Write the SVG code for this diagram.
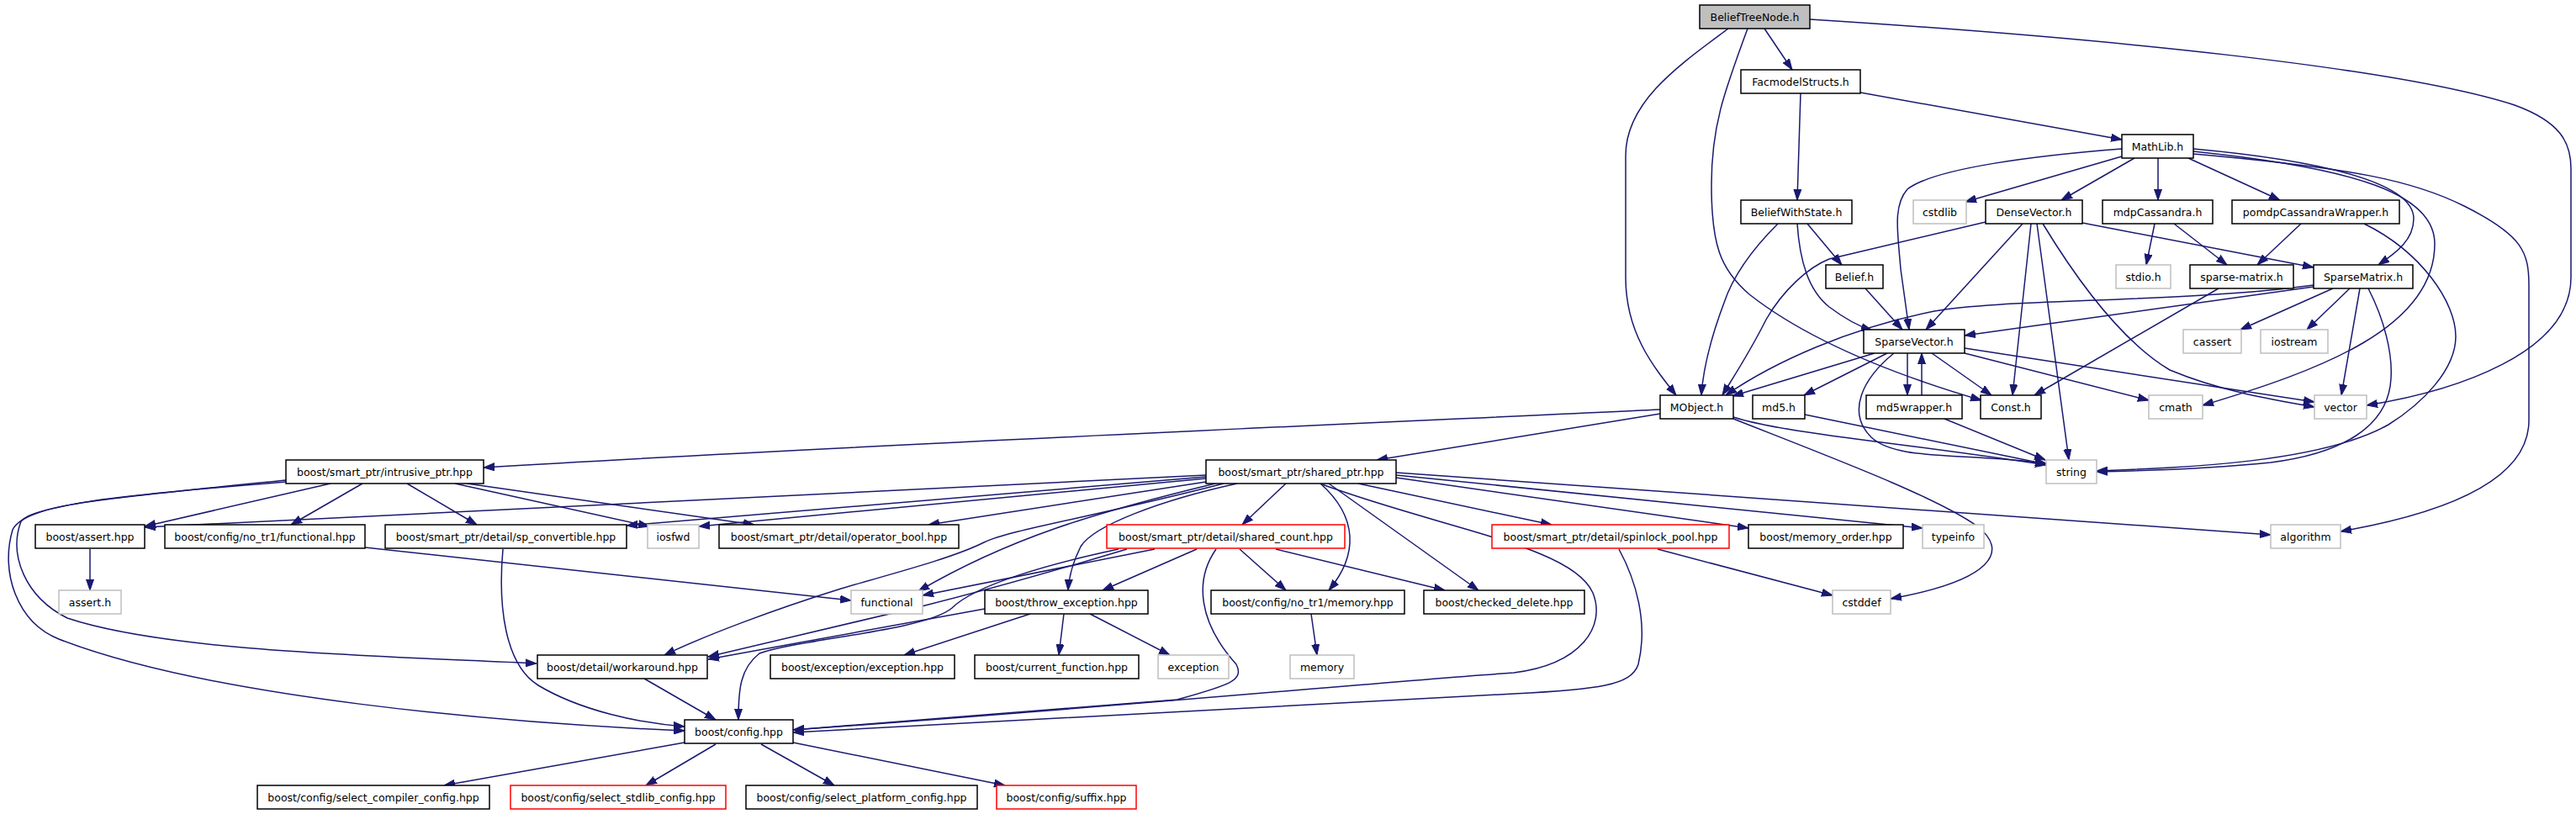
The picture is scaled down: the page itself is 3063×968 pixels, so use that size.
<svg xmlns="http://www.w3.org/2000/svg" width="3063" height="968" viewBox="0 0 3063 968">
<style>
.n rect{fill:#fff;stroke:#000;stroke-width:1.5}
.n.g rect{stroke:#bfbfbf}
.n.r rect{stroke:#f00}
.n.root rect{fill:#bfbfbf}
text{font-family:"DejaVu Sans",sans-serif;font-size:12.5px;text-anchor:middle;fill:#000}
#edges path{fill:none;stroke:#191970;stroke-width:1.5;marker-end:url(#a)}
</style>
<defs>
<marker id="a" markerWidth="13" markerHeight="10" refX="13" refY="5" orient="auto" markerUnits="userSpaceOnUse"><path d="M0,0.5 L13,5 L0,9.5 z" fill="#191970" stroke="#191970" stroke-width="1"/></marker>
</defs>
<rect width="3063" height="968" fill="#fff"/>
<g id="edges">
<path d="M2098,34 L2131,83"/>
<path d="M2055,34 C2000,75 1933,120 1933,185 L1933,330 C1933,395 1965,435 1993,470"/>
<path d="M2078,34 C2050,110 2035,150 2035,220 C2035,290 2045,320 2080,350 C2150,405 2250,445 2356,476"/>
<path d="M2152,23 C2500,45 2850,80 2990,125 C3045,145 3057,170 3057,200 L3057,330 C3057,420 2920,465 2814,482"/>
<path d="M2141,111 L2137,238"/>
<path d="M2212,110 L2523,166"/>
<path d="M2523,186 L2337,240"/>
<path d="M2538,188 L2451,238"/>
<path d="M2566,188 L2566,238"/>
<path d="M2602,188 L2711,238"/>
<path d="M2608,177 C2750,190 2870,215 2870,260 C2870,285 2850,300 2828,315"/>
<path d="M2608,180 C2800,200 2895,230 2895,290 C2895,390 2760,440 2619,482"/>
<path d="M2608,183 C2800,200 2870,215 2930,245 C3000,280 3007,300 3007,340 L3007,500 C3007,580 2880,615 2783,632"/>
<path d="M2523,177 C2420,185 2300,200 2268,225 C2250,245 2257,280 2260,320 L2270,392"/>
<path d="M2405,266 L2290,392"/>
<path d="M2415,266 L2393,470"/>
<path d="M2422,266 L2460,547"/>
<path d="M2429,266 C2480,350 2530,410 2580,440 C2640,465 2700,475 2752,484"/>
<path d="M2361,264 L2175,308 C2150,318 2120,345 2100,380 C2080,420 2060,450 2048,470"/>
<path d="M2476,265 L2751,318"/>
<path d="M2562,266 L2552,315"/>
<path d="M2585,266 L2648,315"/>
<path d="M2736,266 L2684,315"/>
<path d="M2811,266 C2880,300 2920,360 2920,400 C2920,440 2880,480 2840,505 C2760,550 2600,556 2493,560"/>
<path d="M2638,343 L2419,470"/>
<path d="M2751,341 L2336,399"/>
<path d="M2751,339 C2600,360 2380,355 2300,370 C2200,390 2110,430 2052,470"/>
<path d="M2774,343 L2664,392"/>
<path d="M2794,343 L2743,392"/>
<path d="M2806,343 L2784,470"/>
<path d="M2816,343 C2835,380 2845,420 2843,450 C2840,510 2780,540 2700,550 C2620,558 2550,560 2493,561"/>
<path d="M2114,266 C2080,300 2060,330 2050,360 C2035,400 2025,440 2023,470"/>
<path d="M2137,266 C2140,310 2150,345 2175,365 C2195,380 2210,388 2226,393"/>
<path d="M2149,266 L2190,315"/>
<path d="M2218,343 L2262,392"/>
<path d="M2229,420 L2060,471"/>
<path d="M2244,420 L2145,470"/>
<path d="M2268,420 L2268,470"/>
<path d="M2285,470 L2285,420"/>
<path d="M2297,420 L2368,470"/>
<path d="M2336,420 L2555,476"/>
<path d="M2336,414 L2752,478"/>
<path d="M2252,420 C2215,450 2195,490 2225,520 C2255,548 2330,538 2433,551"/>
<path d="M2146,493 L2433,552"/>
<path d="M2312,498 L2432,547"/>
<path d="M2061,496 C2120,515 2250,525 2433,553"/>
<path d="M2061,498 C2180,545 2300,590 2350,625 C2390,655 2370,690 2248,712"/>
<path d="M1974,487 C1700,500 1000,530 575,556"/>
<path d="M1974,492 L1637,547"/>
<path d="M393,575 L172,626"/>
<path d="M431,575 L346,624"/>
<path d="M484,575 L567,624"/>
<path d="M541,575 L772,626"/>
<path d="M555,575 L897,624"/>
<path d="M340,571 C150,590 40,600 25,620 C10,660 30,710 80,735 C200,775 450,780 638,789"/>
<path d="M340,573 C130,590 30,600 15,630 C0,680 20,740 70,760 C250,830 600,860 814,869"/>
<path d="M1434,565 L172,627"/>
<path d="M1434,567 L745,625"/>
<path d="M1434,569 L831,626"/>
<path d="M1434,573 L1104,624"/>
<path d="M1445,575 C1300,610 1200,640 1092,703"/>
<path d="M1455,575 C1300,615 1200,630 1170,645 C1130,665 1050,685 1000,700 C920,725 840,755 790,779"/>
<path d="M1471,575 C1380,595 1300,625 1285,650 C1275,670 1271,685 1270,702"/>
<path d="M1529,575 L1477,624"/>
<path d="M1570,575 C1615,615 1615,660 1580,702"/>
<path d="M1580,575 L1758,702"/>
<path d="M1572,576 C1720,630 1870,650 1894,705 C1910,745 1880,790 1800,800 C1650,810 1400,835 943,868"/>
<path d="M1615,575 L1845,624"/>
<path d="M1660,568 L2079,628"/>
<path d="M1660,565 L2286,628"/>
<path d="M1660,562 L2700,636"/>
<path d="M1423,653 L1311,702"/>
<path d="M1474,653 L1529,702"/>
<path d="M1517,653 L1718,702"/>
<path d="M1373,653 L1097,708"/>
<path d="M1340,653 C1250,680 1180,700 1100,720 L842,781"/>
<path d="M1330,653 C1250,670 1160,695 1132,723 C1100,750 950,760 903,777 C880,795 878,820 878,856"/>
<path d="M1446,653 C1420,690 1425,740 1470,790 C1480,810 1460,815 1400,832 L943,868"/>
<path d="M1171,724 L842,784"/>
<path d="M1225,730 L1075,779"/>
<path d="M1265,730 L1259,779"/>
<path d="M1296,730 L1391,779"/>
<path d="M1559,730 L1566,779"/>
<path d="M1971,653 L2179,708"/>
<path d="M1925,653 C1945,690 1960,740 1948,790 C1940,815 1900,820 1800,825 C1600,835 1300,850 943,871"/>
<path d="M766,807 L851,856"/>
<path d="M598,653 C592,720 600,790 640,815 C690,845 760,860 814,864"/>
<path d="M107,653 L107,702"/>
<path d="M434,651 L1012,714"/>
<path d="M814,883 L528,934"/>
<path d="M851,885 L768,934"/>
<path d="M905,885 L992,934"/>
<path d="M943,883 L1195,934"/>
</g>
<g id="n1" class="n root"><rect x="2021" y="6" width="131" height="28"/><text x="2086.5" y="25">BeliefTreeNode.h</text></g>
<g id="n2" class="n"><rect x="2070" y="83" width="142" height="28"/><text x="2141" y="102">FacmodelStructs.h</text></g>
<g id="n3" class="n"><rect x="2523" y="160" width="85" height="28"/><text x="2565.5" y="179">MathLib.h</text></g>
<g id="n4" class="n g"><rect x="2275" y="238" width="63" height="28"/><text x="2306.5" y="257">cstdlib</text></g>
<g id="n5" class="n"><rect x="2070" y="238" width="132" height="28"/><text x="2136" y="257">BeliefWithState.h</text></g>
<g id="n6" class="n"><rect x="2361" y="238" width="115" height="28"/><text x="2418.5" y="257">DenseVector.h</text></g>
<g id="n7" class="n"><rect x="2500" y="238" width="131" height="28"/><text x="2565.5" y="257">mdpCassandra.h</text></g>
<g id="n8" class="n"><rect x="2654" y="238" width="199" height="28"/><text x="2753.5" y="257">pomdpCassandraWrapper.h</text></g>
<g id="n9" class="n"><rect x="2171" y="315" width="68" height="28"/><text x="2205" y="334">Belief.h</text></g>
<g id="n10" class="n g"><rect x="2516" y="315" width="65" height="28"/><text x="2548.5" y="334">stdio.h</text></g>
<g id="n11" class="n"><rect x="2604" y="315" width="123" height="28"/><text x="2665.5" y="334">sparse-matrix.h</text></g>
<g id="n12" class="n"><rect x="2751" y="315" width="118" height="28"/><text x="2810" y="334">SparseMatrix.h</text></g>
<g id="n13" class="n"><rect x="2216" y="392" width="120" height="28"/><text x="2276" y="411">SparseVector.h</text></g>
<g id="n14" class="n g"><rect x="2596" y="392" width="69" height="28"/><text x="2630.5" y="411">cassert</text></g>
<g id="n15" class="n g"><rect x="2688" y="392" width="80" height="28"/><text x="2728" y="411">iostream</text></g>
<g id="n16" class="n"><rect x="1974" y="470" width="87" height="28"/><text x="2017.5" y="489">MObject.h</text></g>
<g id="n17" class="n"><rect x="2084" y="470" width="62" height="28"/><text x="2115" y="489">md5.h</text></g>
<g id="n18" class="n"><rect x="2219" y="470" width="114" height="28"/><text x="2276" y="489">md5wrapper.h</text></g>
<g id="n19" class="n"><rect x="2355" y="470" width="72" height="28"/><text x="2391" y="489">Const.h</text></g>
<g id="n20" class="n g"><rect x="2555" y="470" width="64" height="28"/><text x="2587" y="489">cmath</text></g>
<g id="n21" class="n g"><rect x="2752" y="470" width="62" height="28"/><text x="2783" y="489">vector</text></g>
<g id="n22" class="n g"><rect x="2433" y="547" width="60" height="28"/><text x="2463" y="566">string</text></g>
<g id="n23" class="n"><rect x="340" y="547" width="235" height="28"/><text x="457.5" y="566">boost/smart_ptr/intrusive_ptr.hpp</text></g>
<g id="n24" class="n"><rect x="1434" y="547" width="226" height="28"/><text x="1547" y="566">boost/smart_ptr/shared_ptr.hpp</text></g>
<g id="n25" class="n"><rect x="42" y="624" width="130" height="28"/><text x="107" y="643">boost/assert.hpp</text></g>
<g id="n26" class="n"><rect x="196" y="624" width="238" height="28"/><text x="315" y="643">boost/config/no_tr1/functional.hpp</text></g>
<g id="n27" class="n"><rect x="458" y="624" width="287" height="28"/><text x="601.5" y="643">boost/smart_ptr/detail/sp_convertible.hpp</text></g>
<g id="n28" class="n g"><rect x="770" y="624" width="61" height="28"/><text x="800.5" y="643">iosfwd</text></g>
<g id="n29" class="n"><rect x="855" y="624" width="285" height="28"/><text x="997.5" y="643">boost/smart_ptr/detail/operator_bool.hpp</text></g>
<g id="n30" class="n r"><rect x="1316" y="624" width="283" height="28"/><text x="1457.5" y="643">boost/smart_ptr/detail/shared_count.hpp</text></g>
<g id="n31" class="n r"><rect x="1774" y="624" width="282" height="28"/><text x="1915" y="643">boost/smart_ptr/detail/spinlock_pool.hpp</text></g>
<g id="n32" class="n"><rect x="2079" y="624" width="184" height="28"/><text x="2171" y="643">boost/memory_order.hpp</text></g>
<g id="n33" class="n g"><rect x="2286" y="624" width="73" height="28"/><text x="2322.5" y="643">typeinfo</text></g>
<g id="n34" class="n g"><rect x="2700" y="624" width="83" height="28"/><text x="2741.5" y="643">algorithm</text></g>
<g id="n35" class="n g"><rect x="70" y="702" width="74" height="28"/><text x="107" y="721">assert.h</text></g>
<g id="n36" class="n g"><rect x="1012" y="702" width="85" height="28"/><text x="1054.5" y="721">functional</text></g>
<g id="n37" class="n"><rect x="1171" y="702" width="194" height="28"/><text x="1268" y="721">boost/throw_exception.hpp</text></g>
<g id="n38" class="n"><rect x="1440" y="702" width="230" height="28"/><text x="1555" y="721">boost/config/no_tr1/memory.hpp</text></g>
<g id="n39" class="n"><rect x="1693" y="702" width="191" height="28"/><text x="1788.5" y="721">boost/checked_delete.hpp</text></g>
<g id="n40" class="n g"><rect x="2179" y="702" width="69" height="28"/><text x="2213.5" y="721">cstddef</text></g>
<g id="n41" class="n"><rect x="639" y="779" width="202" height="28"/><text x="740" y="798">boost/detail/workaround.hpp</text></g>
<g id="n42" class="n"><rect x="916" y="779" width="219" height="28"/><text x="1025.5" y="798">boost/exception/exception.hpp</text></g>
<g id="n43" class="n"><rect x="1159" y="779" width="195" height="28"/><text x="1256.5" y="798">boost/current_function.hpp</text></g>
<g id="n44" class="n g"><rect x="1377" y="779" width="84" height="28"/><text x="1419" y="798">exception</text></g>
<g id="n45" class="n g"><rect x="1534" y="779" width="76" height="28"/><text x="1572" y="798">memory</text></g>
<g id="n46" class="n"><rect x="814" y="856" width="129" height="28"/><text x="878.5" y="875">boost/config.hpp</text></g>
<g id="n47" class="n"><rect x="306" y="934" width="276" height="28"/><text x="444" y="953">boost/config/select_compiler_config.hpp</text></g>
<g id="n48" class="n r"><rect x="607" y="934" width="256" height="28"/><text x="735" y="953">boost/config/select_stdlib_config.hpp</text></g>
<g id="n49" class="n"><rect x="887" y="934" width="275" height="28"/><text x="1024.5" y="953">boost/config/select_platform_config.hpp</text></g>
<g id="n50" class="n r"><rect x="1185" y="934" width="166" height="28"/><text x="1268" y="953">boost/config/suffix.hpp</text></g>
</svg>
